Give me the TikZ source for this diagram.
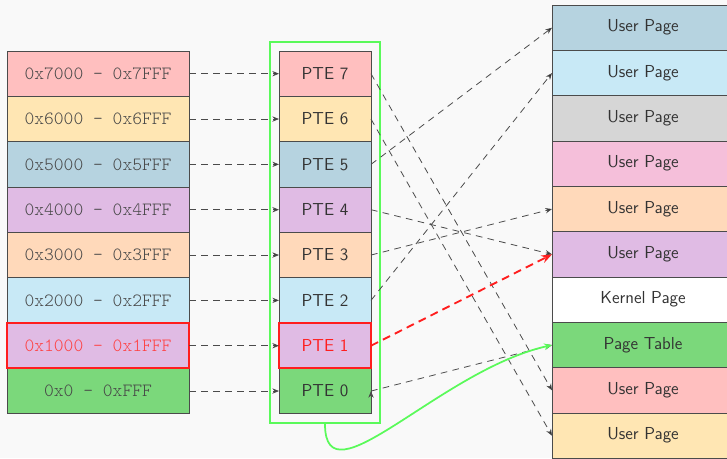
\documentclass[tikz,border=0pt]{standalone}
\usepackage{tikz}
\usetikzlibrary{positioning,fit,arrows.meta}

\definecolor{bgcol}{RGB}{249,249,249}
\definecolor{rosecol}{RGB}{255,191,191}
\definecolor{sandcol}{RGB}{255,230,179}
\definecolor{steelcol}{RGB}{182,211,224}
\definecolor{lilaccol}{RGB}{224,187,228}
\definecolor{peachcol}{RGB}{255,217,186}
\definecolor{skycol}{RGB}{200,233,246}
\definecolor{leafcol}{RGB}{123,216,123}
\definecolor{ashcol}{RGB}{214,214,214}
\definecolor{pinkcol}{RGB}{245,191,218}
\definecolor{edgecol}{RGB}{75,75,75}
\definecolor{hotred}{RGB}{255,30,30}
\definecolor{glow}{RGB}{90,250,90}

\begin{document}
\begin{tikzpicture}[x=0.75pt, y=-0.75pt,
  cell/.style={draw=edgecol, line width=0.7pt, outer sep=0pt, inner sep=0pt,
    minimum height=34pt, text=black!80, font=\fontsize{13}{15}\selectfont\sffamily},
  vaddr/.style={cell, minimum width=136.5pt, text=black!72,
    font=\fontsize{14}{16}\selectfont\ttfamily\fontseries{l}\selectfont},
  pte/.style={cell, minimum width=69pt},
  phys/.style={cell, minimum width=136.5pt},
  hotline/.style={draw=hotred, line width=1.4pt},
  link/.style={-{Stealth[length=5pt,width=4pt]}, draw=edgecol, line width=0.6pt,
    dash pattern=on 5pt off 4pt}]

  \path[use as bounding box, fill=bgcol] (0,0) rectangle (727,458);

  % virtual address space
  \node[vaddr, fill=rosecol] (v7) at (98,73.7) {0x7000 – 0x7FFF};
  \node[vaddr, fill=sandcol, below=0pt of v7] (v6) {0x6000 – 0x6FFF};
  \node[vaddr, fill=steelcol, below=0pt of v6] (v5) {0x5000 – 0x5FFF};
  \node[vaddr, fill=lilaccol, below=0pt of v5] (v4) {0x4000 – 0x4FFF};
  \node[vaddr, fill=peachcol, below=0pt of v4] (v3) {0x3000 – 0x3FFF};
  \node[vaddr, fill=skycol, below=0pt of v3] (v2) {0x2000 – 0x2FFF};
  \node[vaddr, fill=lilaccol, text=hotred!85, below=0pt of v2] (v1) {0x1000 – 0x1FFF};
  \node[vaddr, fill=leafcol, below=0pt of v1] (v0) {0x0 – 0xFFF};

  % page table entries
  \node[pte, fill=rosecol] (pte7) at (325,73.7) {PTE 7};
  \node[pte, fill=sandcol, below=0pt of pte7] (pte6) {PTE 6};
  \node[pte, fill=steelcol, below=0pt of pte6] (pte5) {PTE 5};
  \node[pte, fill=lilaccol, below=0pt of pte5] (pte4) {PTE 4};
  \node[pte, fill=peachcol, below=0pt of pte4] (pte3) {PTE 3};
  \node[pte, fill=skycol, below=0pt of pte3] (pte2) {PTE 2};
  \node[pte, fill=lilaccol, text=hotred, below=0pt of pte2] (pte1) {PTE 1};
  \node[pte, fill=leafcol, below=0pt of pte1] (pte0) {PTE 0};
  \node[draw=glow, line width=1.5pt, inner sep=7pt, fit=(pte7)(pte0)] (tbl) {};

  % physical memory
  \node[phys, fill=steelcol] (page9) at (643,27.7) {User Page};
  \node[phys, fill=skycol, below=0pt of page9] (page8) {User Page};
  \node[phys, fill=ashcol, below=0pt of page8] (page7) {User Page};
  \node[phys, fill=pinkcol, below=0pt of page7] (page6) {User Page};
  \node[phys, fill=peachcol, below=0pt of page6] (page5) {User Page};
  \node[phys, fill=lilaccol, below=0pt of page5] (page4) {User Page};
  \node[phys, fill=white, below=0pt of page4] (page3) {Kernel Page};
  \node[phys, fill=leafcol, below=0pt of page3] (page2) {Page Table};
  \node[phys, fill=rosecol, below=0pt of page2] (page1) {User Page};
  \node[phys, fill=sandcol, below=0pt of page1] (page0) {User Page};

  \draw[hotline] (v1.south west) rectangle (v1.north east);
  \draw[hotline] (pte1.south west) rectangle (pte1.north east);

  \path[link]
    (v7) edge (pte7)
    (v6) edge (pte6)
    (v5) edge (pte5)
    (v4) edge (pte4)
    (v3) edge (pte3)
    (v2) edge (pte2)
    (v1) edge (pte1)
    (v0) edge (pte0);

  \path[link]
    (pte7.east) edge (page1.west)
    (pte6.east) edge (page0.west)
    (pte5.east) edge (page9.west)
    (pte4.east) edge (page4.west)
    (pte3.east) edge (page5.west)
    (pte2.east) edge (page8.west)
    (pte0.east) edge (page2.west);

  \draw[-{Stealth[length=8pt,width=6pt]}, hotred, line width=1.4pt,
    dash pattern=on 6pt off 4pt] (pte1.east) -- (page4.west);

  \draw[-{Stealth[length=6pt,width=5pt]}, glow, line width=1.3pt]
    (tbl.south) .. controls +(0,81) and +(-112,25) .. (page2.west);
\end{tikzpicture}
\end{document}
